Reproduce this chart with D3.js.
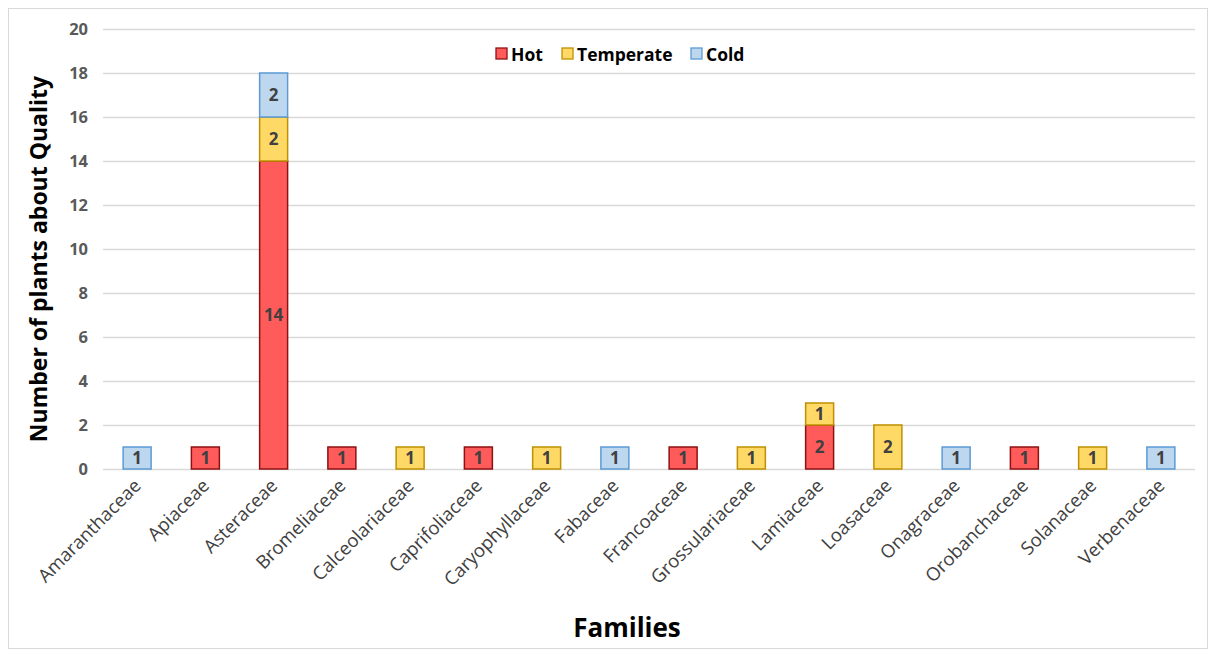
<!DOCTYPE html>
<html>
<head>
<meta charset="utf-8">
<script src="https://cdn.jsdelivr.net/npm/d3@7"></script>
<style>
  html, body { margin: 0; padding: 0; background: #fff; }
  svg { display: block; font-family: "Open Sans", "Noto Sans", sans-serif; }
</style>
</head>
<body>
<svg id="chart" width="1215" height="655"></svg>
<script>
// Plant families and counts per climate zone
const families = ["Amaranthaceae", "Apiaceae", "Asteraceae", "Bromeliaceae", "Calceolariaceae",
  "Caprifoliaceae", "Caryophyllaceae", "Fabaceae", "Francoaceae", "Grossulariaceae",
  "Lamiaceae", "Loasaceae", "Onagraceae", "Orobanchaceae", "Solanaceae", "Verbenaceae"];
const hot       = [0, 1, 14, 1, 0, 1, 0, 0, 1, 0, 2, 0, 0, 1, 0, 0];
const temperate = [0, 0, 2, 0, 1, 0, 1, 0, 0, 1, 1, 2, 0, 0, 1, 0];
const cold      = [1, 0, 2, 0, 0, 0, 0, 1, 0, 0, 0, 0, 1, 0, 0, 1];
const seriesNames = ["Hot", "Temperate", "Cold"];
const yTicks = [0, 2, 4, 6, 8, 10, 12, 14, 16, 18, 20];

const fills   = { Hot: "#FF5B5B", Temperate: "#FFD966", Cold: "#BDD7EE" };
const strokes = { Hot: "#8E1111", Temperate: "#BF9000", Cold: "#5B9BD5" };
const FONT = '"Open Sans", "Noto Sans", sans-serif';

const rows = families.map((f, i) => ({ family: f, Hot: hot[i], Temperate: temperate[i], Cold: cold[i] }));
const stacked = d3.stack().keys(seriesNames)(rows);

const svg = d3.select("#chart");
const W = 1215, H = 655;
const margin = { left: 103, right: 20, top: 29, bottom: 186 };
const plotW = W - margin.left - margin.right;
const plotH = H - margin.top - margin.bottom;

// Outer frame
svg.append("rect").attr("x", 8.5).attr("y", 8.5).attr("width", 1199).attr("height", 640)
  .attr("fill", "#fff").attr("stroke", "#d9d9d9").attr("stroke-width", 1);

const g = svg.append("g").attr("transform", `translate(${margin.left},${margin.top})`);

const x = d3.scaleBand().domain(families).range([0, plotW]).paddingInner(0.59).paddingOuter(0.295);
const y = d3.scaleLinear().domain([0, 20]).range([plotH, 0]);

// Horizontal gridlines
g.append("g").selectAll("line").data(yTicks).join("line")
  .attr("x1", 0).attr("x2", plotW)
  .attr("y1", d => Math.round(y(d)) + 0.5).attr("y2", d => Math.round(y(d)) + 0.5)
  .attr("stroke", "#d9d9d9").attr("stroke-width", 1.3);

// Y axis tick labels
const yAxis = g.append("g").call(d3.axisLeft(y).tickValues(yTicks).tickSize(0).tickPadding(15))
  .attr("font-family", FONT);
yAxis.select(".domain").remove();
yAxis.selectAll("text").attr("font-size", 16.5).attr("font-weight", "bold").attr("fill", "#595959");

// Stacked bars
const layer = g.selectAll("g.layer").data(stacked).join("g").attr("class", "layer");
layer.selectAll("rect").data(s => s.map(d => ({ key: s.key, d })).filter(o => o.d[1] - o.d[0] > 0))
  .join("rect")
  .attr("x", o => x(o.d.data.family))
  .attr("y", o => y(o.d[1]))
  .attr("width", x.bandwidth())
  .attr("height", o => y(o.d[0]) - y(o.d[1]))
  .attr("fill", o => fills[o.key])
  .attr("stroke", o => strokes[o.key])
  .attr("stroke-width", 1.5);

// Value labels inside segments
layer.selectAll("text").data(s => s.map(d => ({ key: s.key, d })).filter(o => o.d[1] - o.d[0] > 0))
  .join("text")
  .attr("x", o => x(o.d.data.family) + x.bandwidth() / 2)
  .attr("y", o => (y(o.d[0]) + y(o.d[1])) / 2)
  .attr("dy", "0.36em")
  .attr("text-anchor", "middle")
  .attr("font-size", 17).attr("font-weight", "bold").attr("fill", "#404040")
  .text(o => o.d[1] - o.d[0]);

// X axis category labels
const xAxis = g.append("g").attr("transform", `translate(0,${plotH})`)
  .call(d3.axisBottom(x).tickSize(0).tickPadding(0))
  .attr("font-family", FONT);
xAxis.select(".domain").remove();
xAxis.selectAll("text")
  .attr("font-size", 18.5).attr("fill", "#404040")
  .attr("text-anchor", "end")
  .attr("dy", null).attr("y", 0)
  .attr("transform", "translate(5,18) rotate(-45)");

// Axis titles
svg.append("text").attr("transform", `translate(47,${margin.top + plotH / 2 + 10}) rotate(-90)`)
  .attr("text-anchor", "middle").attr("font-size", 23).attr("font-weight", "bold").attr("fill", "#000")
  .text("Number of plants about Quality");
svg.append("text").attr("x", 627).attr("y", 637)
  .attr("text-anchor", "middle").attr("font-size", 26).attr("font-weight", "bold").attr("fill", "#000")
  .text("Families");

// Legend
const legendX = [496, 562, 691];
const legend = svg.append("g");
seriesNames.forEach((name, i) => {
  legend.append("rect").attr("x", legendX[i]).attr("y", 48).attr("width", 11).attr("height", 11)
    .attr("fill", fills[name]).attr("stroke", strokes[name]).attr("stroke-width", 1.3);
  legend.append("text").attr("x", legendX[i] + 15).attr("y", 61)
    .attr("font-size", 17.5).attr("font-weight", "bold").attr("fill", "#000").text(name);
});
</script>
</body>
</html>
